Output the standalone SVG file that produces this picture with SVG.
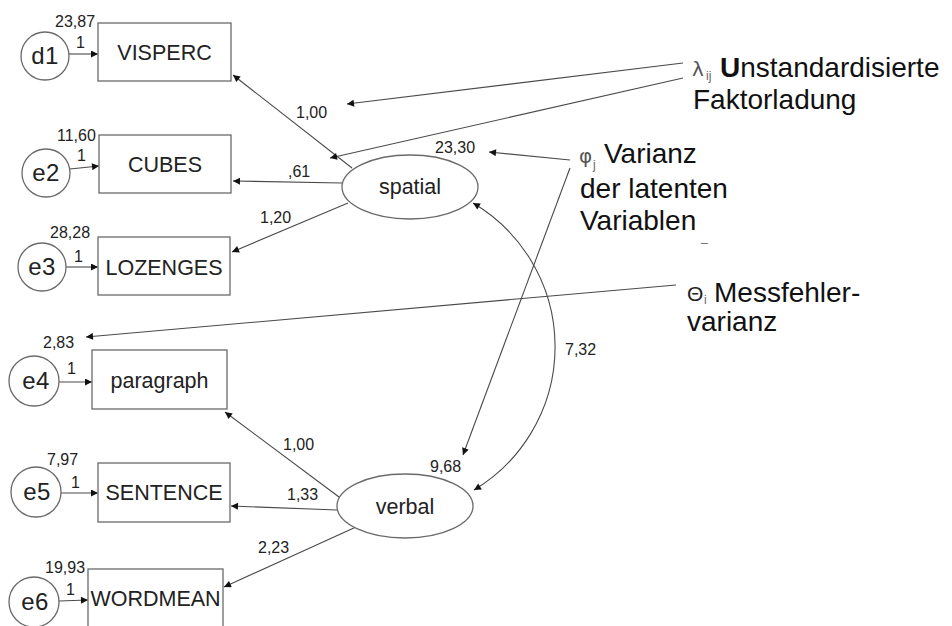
<svg xmlns="http://www.w3.org/2000/svg" width="952" height="626" viewBox="0 0 952 626">
  <style>
    .box { fill: #fff; stroke: #6a6a6a; stroke-width: 1.3; }
    .lat { fill: #fff; stroke: #6a6a6a; stroke-width: 1.3; }
    .lbl { font-family: "Liberation Sans", Arial, sans-serif; font-size: 21.5px; fill: #222; text-anchor: middle; }
    .err { font-family: "Liberation Sans", Arial, sans-serif; font-size: 24px; fill: #222; text-anchor: middle; letter-spacing: 0.5px; }
    .num { font-family: "Liberation Sans", Arial, sans-serif; font-size: 16px; fill: #222; }
    .note { font-family: "Liberation Sans", Arial, sans-serif; font-size: 28px; fill: #111; }
    .sym { font-family: "DejaVu Sans", sans-serif; font-size: 20px; fill: #555; }
    .theta { font-family: "Liberation Sans", Arial, sans-serif; font-size: 21px; fill: #222; }
    .sub { font-family: "Liberation Sans", Arial, sans-serif; font-size: 12px; fill: #666; }
    .edge { fill: none; stroke: #4a4a4a; stroke-width: 1.1; }
  </style>
  <defs>
    <marker id="ah" viewBox="0 0 10 10" refX="10" refY="5" markerWidth="9" markerHeight="7" markerUnits="userSpaceOnUse" orient="auto-start-reverse">
      <path d="M0,0 L10,5 L0,10 z" fill="#111"/>
    </marker>
  </defs>

  <rect width="952" height="626" fill="#fff"/>

  <!-- connectors -->
  <g id="connectors">
    <!-- error terms to indicators -->
    <line class="edge" x1="69" y1="54" x2="98" y2="54" marker-end="url(#ah)"/>
    <line class="edge" x1="70" y1="169" x2="99" y2="166" marker-end="url(#ah)"/>
    <line class="edge" x1="66" y1="267" x2="98" y2="267" marker-end="url(#ah)"/>
    <line class="edge" x1="59" y1="382" x2="92" y2="382" marker-end="url(#ah)"/>
    <line class="edge" x1="61" y1="493" x2="98" y2="493" marker-end="url(#ah)"/>
    <line class="edge" x1="59" y1="601" x2="88" y2="600" marker-end="url(#ah)"/>

    <!-- factor loadings: spatial -->
    <line class="edge" x1="352" y1="168" x2="233" y2="75" marker-end="url(#ah)"/>
    <line class="edge" x1="342" y1="183" x2="233" y2="181" marker-end="url(#ah)"/>
    <line class="edge" x1="348" y1="203" x2="232" y2="252" marker-end="url(#ah)"/>

    <!-- factor loadings: verbal -->
    <line class="edge" x1="339" y1="497" x2="225" y2="412" marker-end="url(#ah)"/>
    <line class="edge" x1="337" y1="510" x2="231" y2="506" marker-end="url(#ah)"/>
    <line class="edge" x1="356" y1="527" x2="224" y2="587" marker-end="url(#ah)"/>

    <!-- covariance spatial <-> verbal -->
    <path class="edge" d="M473,203 A167,167 0 0 1 474,490" marker-start="url(#ah)" marker-end="url(#ah)"/>

    <!-- annotation pointers -->
    <line class="edge" x1="683" y1="63" x2="347" y2="104" marker-end="url(#ah)"/>
    <line class="edge" x1="683" y1="78" x2="330" y2="158" marker-end="url(#ah)"/>
    <line class="edge" x1="570" y1="160" x2="489" y2="152" marker-end="url(#ah)"/>
    <line class="edge" x1="570" y1="168" x2="463" y2="455" marker-end="url(#ah)"/>
    <line class="edge" x1="676" y1="285" x2="86" y2="337" marker-end="url(#ah)"/>
  </g>

  <!-- edge values -->
  <g id="values" class="num">
    <text x="55" y="27">23,87</text>
    <text x="76" y="48">1</text>
    <text x="57" y="141">11,60</text>
    <text x="77" y="161">1</text>
    <text x="50" y="238">28,28</text>
    <text x="74" y="262">1</text>
    <text x="43" y="348">2,83</text>
    <text x="67" y="374">1</text>
    <text x="47" y="465">7,97</text>
    <text x="71" y="488">1</text>
    <text x="45" y="573">19,93</text>
    <text x="66" y="595">1</text>

    <text x="296" y="118">1,00</text>
    <text x="288" y="177">,61</text>
    <text x="260" y="223">1,20</text>
    <text x="435" y="153">23,30</text>

    <text x="283" y="450">1,00</text>
    <text x="287" y="500">1,33</text>
    <text x="258" y="553">2,23</text>
    <text x="430" y="472">9,68</text>
    <text x="565" y="355">7,32</text>
  </g>

  <!-- error terms -->
  <g id="d1"><circle class="lat" cx="45" cy="56" r="24"/><text class="err" x="45" y="64">d1</text></g>
  <g id="e2"><circle class="lat" cx="46" cy="173" r="24"/><text class="err" x="46" y="181">e2</text></g>
  <g id="e3"><circle class="lat" cx="42" cy="267" r="24"/><text class="err" x="42" y="275">e3</text></g>
  <g id="e4"><circle class="lat" cx="34" cy="381" r="25"/><text class="err" x="36" y="389">e4</text></g>
  <g id="e5"><circle class="lat" cx="36" cy="492" r="25"/><text class="err" x="37" y="500">e5</text></g>
  <g id="e6"><circle class="lat" cx="34" cy="602" r="25"/><text class="err" x="35" y="610">e6</text></g>

  <!-- observed indicators -->
  <g id="visperc"><rect class="box" x="98" y="23" width="133" height="58"/><text class="lbl" x="164.5" y="60">VISPERC</text></g>
  <g id="cubes"><rect class="box" x="99" y="135" width="132" height="58"/><text class="lbl" x="165" y="172">CUBES</text></g>
  <g id="lozenges"><rect class="box" x="98" y="237" width="132" height="58"/><text class="lbl" x="164" y="275">LOZENGES</text></g>
  <g id="paragraph"><rect class="box" x="92" y="350" width="135" height="59"/><text class="lbl" x="159.5" y="388">paragraph</text></g>
  <g id="sentence"><rect class="box" x="98" y="463" width="132" height="59"/><text class="lbl" x="164" y="500">SENTENCE</text></g>
  <g id="wordmean"><rect class="box" x="88" y="569" width="135" height="70"/><text class="lbl" x="155.5" y="606">WORDMEAN</text></g>

  <!-- latent factors -->
  <g id="spatial"><ellipse class="lat" cx="410" cy="187" rx="68" ry="32"/><text class="lbl" x="410" y="194">spatial</text></g>
  <g id="verbal"><ellipse class="lat" cx="405" cy="506" rx="68" ry="32"/><text class="lbl" x="405" y="514">verbal</text></g>

  <!-- annotations -->
  <g id="note-lambda">
    <text class="sym" x="692" y="76">λ</text>
    <text class="sub" x="706" y="80">ij</text>
    <text class="note" x="720" y="77"><tspan font-weight="bold">U</tspan>nstandardisierte</text>
    <text class="note" x="693" y="109">Faktorladung</text>
  </g>
  <g id="note-phi">
    <text class="sym" x="579" y="163">φ</text>
    <text class="sub" x="593" y="169">j</text>
    <text class="note" x="604" y="163">Varianz</text>
    <text class="note" x="580" y="198">der latenten</text>
    <text class="note" x="580" y="230">Variablen</text>
    <text class="sub" x="701" y="241">_</text>
  </g>
  <g id="note-theta">
    <text class="theta" x="687" y="301">Θ</text>
    <text class="sub" x="704" y="304">i</text>
    <text class="note" x="714" y="302">Messfehler-</text>
    <text class="note" x="687" y="331">varianz</text>
  </g>
</svg>
